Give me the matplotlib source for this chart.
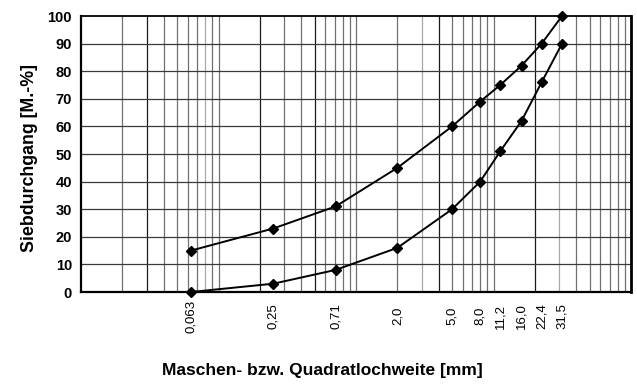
import matplotlib
matplotlib.use("Agg")
import matplotlib.pyplot as plt
import matplotlib.transforms as mtransforms
import numpy as np

sieve_sizes = [0.063, 0.25, 0.71, 2.0, 5.0, 8.0, 11.2, 16.0, 22.4, 31.5]
sieve_labels = ["0,063", "0,25", "0,71", "2,0", "5,0", "8,0", "11,2", "16,0", "22,4", "31,5"]
upper_curve = [15, 23, 31, 45, 60, 69, 75, 82, 90, 100]
lower_curve = [0, 3, 8, 16, 30, 40, 51, 62, 76, 90]
y_ticks = [0, 10, 20, 30, 40, 50, 60, 70, 80, 90, 100]

plt.rcParams['font.family'] = ['Liberation Sans', 'DejaVu Sans']

fig = plt.figure(figsize=(6.37, 3.84), dpi=100)
ax = fig.add_axes([81/637, 1-292/384, 550/637, 276/384])
ax.set_xscale('log')
ax.set_xlim(0.01, 100)
ax.set_ylim(0, 100)

# grid
dark = {0.03, 0.2, 0.5, 4, 20}
light = {0.08, 3, 30}
for k in [0.01, 0.1, 1, 10]:
    for n in range(1, 10):
        v = round(n * k, 6)
        if v <= 0.01:
            continue
        c = '#707070'
        if any(abs(v - d) < 1e-9 for d in dark):
            c = '#1a1a1a'
        elif any(abs(v - d) < 1e-9 for d in light):
            c = '#a8a8a8'
        ax.axvline(v, color=c, lw=0.9, zorder=1)
for yv in y_ticks[1:-1]:
    ax.axhline(yv, color='#3a3a3a', lw=0.9, zorder=1)

ax.plot(sieve_sizes, upper_curve, color='black', lw=1.4, marker='D', ms=5.5, zorder=3, clip_on=False)
ax.plot(sieve_sizes, lower_curve, color='black', lw=1.4, marker='D', ms=5.5, zorder=3, clip_on=False)

ax.set_yticks(y_ticks)
ax.set_yticklabels([str(v) for v in y_ticks], fontsize=10.5, fontweight='bold')
ax.tick_params(axis='y', length=0, pad=6.5)
ax.set_xticks([])
ax.xaxis.set_minor_locator(matplotlib.ticker.NullLocator())

trans = mtransforms.blended_transform_factory(ax.transData, ax.transAxes)
for x, lab in zip(sieve_sizes, sieve_labels):
    ax.text(x, -0.087, lab, transform=trans, rotation=90, ha='center', va='center', fontsize=9.5)

for s in ['left', 'bottom']:
    ax.spines[s].set_linewidth(1.6)
ax.spines['top'].set_linewidth(1.3)
ax.spines['right'].set_linewidth(2.0)
for s in ax.spines.values():
    s.set_color('black')
    s.set_zorder(4)

fig.text(29.5/637, 1-158/384, "Siebdurchgang [M.-%]", rotation=90, ha='center', va='center',
         fontsize=12.8, fontweight='bold')
fig.text(322/637, 1-371/384, "Maschen- bzw. Quadratlochweite [mm]", ha='center', va='center',
         fontsize=12.5, fontweight='bold')

fig.savefig("out.png", dpi=100)
